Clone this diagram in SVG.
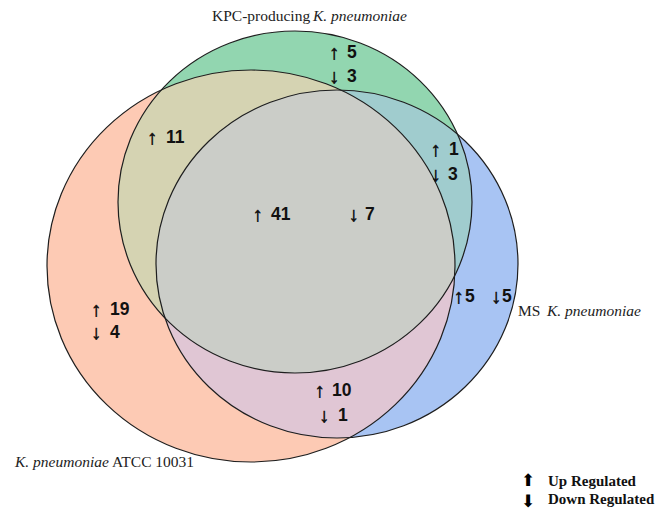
<svg xmlns="http://www.w3.org/2000/svg" width="659" height="518" viewBox="0 0 659 518">
<style>
  .outline { fill: none; stroke: #1e1e1e; stroke-width: 1.2; }
  .num { font-family: "Liberation Sans", Arial, sans-serif; font-weight: bold; font-size: 17.5px; fill: #111; }
  .arr { font-family: "Liberation Sans", Arial, sans-serif; font-size: 20px; fill: #111; stroke: #111; stroke-width: 0.6; text-anchor: middle; }
  .lab { font-family: "Liberation Serif", "Times New Roman", serif; font-size: 15.5px; fill: #222; }
  .it { font-style: italic; }
  .leg { font-family: "Liberation Serif", "Times New Roman", serif; font-weight: bold; font-size: 15px; fill: #111; }
  .legarr { font-family: "DejaVu Sans", sans-serif; font-size: 17px; fill: #000; text-anchor: middle; }
</style>
<defs>
  <clipPath id="clipO"><ellipse cx="251" cy="266" rx="204" ry="196"/></clipPath>
  <clipPath id="clipG"><ellipse cx="295" cy="202" rx="177" ry="171"/></clipPath>
</defs>
<rect width="659" height="518" fill="#ffffff"/>
<g id="regions">
  <ellipse id="fill-atcc" cx="251" cy="266" rx="204" ry="196" fill="#FDCAB4"/>
  <ellipse id="fill-kpc" cx="295" cy="202" rx="177" ry="171" fill="#92D6B0"/>
  <ellipse id="fill-ms" cx="337" cy="264" rx="181" ry="174" fill="#A8C4F3"/>
  <g clip-path="url(#clipO)"><ellipse cx="295" cy="202" rx="177" ry="171" fill="#D5D3B2"/></g>
  <g clip-path="url(#clipO)"><ellipse cx="337" cy="264" rx="181" ry="174" fill="#E0C6D4"/></g>
  <g clip-path="url(#clipG)"><ellipse cx="337" cy="264" rx="181" ry="174" fill="#A0CCCE"/></g>
  <g clip-path="url(#clipO)"><g clip-path="url(#clipG)"><ellipse cx="337" cy="264" rx="181" ry="174" fill="#CBCDC8"/></g></g>
</g>
<g id="set-atcc">
  <ellipse class="outline" cx="251" cy="266" rx="204" ry="196"/>
  <text class="lab" x="15" y="467"><tspan class="it">K. pneumoniae</tspan> ATCC 10031</text>
</g>
<g id="set-kpc">
  <ellipse class="outline" cx="295" cy="202" rx="177" ry="171"/>
  <text class="lab" x="212" y="21">KPC-producing <tspan class="it" x="313">K. pneumoniae</tspan></text>
</g>
<g id="set-ms">
  <ellipse class="outline" cx="337" cy="264" rx="181" ry="174"/>
  <text class="lab" x="518" y="316">MS <tspan class="it" x="547">K. pneumoniae</tspan></text>
</g>
<g id="connectors"></g>
<g id="region-kpc-only">
  <text class="arr" x="334" y="59">↑</text><text class="num" x="347" y="58">5</text>
  <text class="arr" x="334" y="83">↓</text><text class="num" x="347" y="82">3</text>
</g>
<g id="region-kpc-atcc">
  <text class="arr" x="152" y="144">↑</text><text class="num" x="166" y="143">11</text>
</g>
<g id="region-kpc-ms">
  <text class="arr" x="435.5" y="156">↑</text><text class="num" x="449" y="155">1</text>
  <text class="arr" x="435.5" y="181">↓</text><text class="num" x="448" y="180">3</text>
</g>
<g id="region-all">
  <text class="arr" x="257.5" y="221">↑</text><text class="num" x="271" y="220">41</text>
  <text class="arr" x="353.5" y="221">↓</text><text class="num" x="365" y="220">7</text>
</g>
<g id="region-ms-only">
  <text class="arr" x="458.5" y="303">↑</text><text class="num" x="465" y="302">5</text>
  <text class="arr" x="496" y="303">↓</text><text class="num" x="502" y="302">5</text>
</g>
<g id="region-atcc-only">
  <text class="arr" x="96" y="316">↑</text><text class="num" x="110" y="315">19</text>
  <text class="arr" x="96" y="339">↓</text><text class="num" x="110" y="338">4</text>
</g>
<g id="region-atcc-ms">
  <text class="arr" x="319.5" y="397">↑</text><text class="num" x="332" y="396">10</text>
  <text class="arr" x="324" y="422">↓</text><text class="num" x="338" y="421">1</text>
</g>
<g id="legend">
  <text class="legarr" x="528" y="486">⬆</text>
  <text class="leg" x="548" y="486">Up Regulated</text>
  <text class="legarr" x="528" y="507">⬇</text>
  <text class="leg" x="548" y="504">Down Regulated</text>
</g>
</svg>
